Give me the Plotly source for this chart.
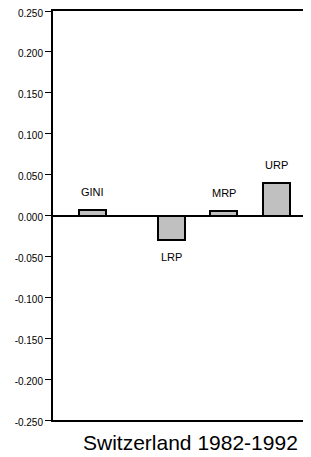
import plotly.graph_objects as go

categories = ["GINI", "LRP", "MRP", "URP"]
x_positions = [0, 1.5, 2.5, 3.5]
values = [0.007, -0.030, 0.005, 0.040]
tick_vals = [0.25, 0.2, 0.15, 0.1, 0.05, 0.0, -0.05, -0.1, -0.15, -0.2, -0.25]
tick_labels = ["0.250", "0.200", "0.150", "0.100", "0.050", "0.000",
               "-0.050", "-0.100", "-0.150", "-0.200", "-0.250"]
title_text = "Switzerland 1982-1992"

FONT = "Liberation Sans, Arial, sans-serif"

# The page body has an 8px default margin, so the figure is sized to fit.
W, H = 303, 449
ML, MR, MT, MB = 45, 0, 3, 37

fig = go.Figure()
fig.add_trace(go.Bar(
    x=x_positions, y=values, width=0.52,
    marker=dict(color="#c0c0c0", line=dict(color="black", width=2)),
    hoverinfo="skip", showlegend=False,
))

annotations = []
for xp, v, c in zip(x_positions, values, categories):
    annotations.append(dict(
        x=xp, y=v, xref="x", yref="y", text=c, showarrow=False,
        yanchor="bottom" if v >= 0 else "top",
        yshift=10 if v >= 0 else -9,
        font=dict(family=FONT, size=11, color="black"),
    ))
annotations.append(dict(
    xref="paper", yref="paper", x=(182 - ML) / (W - ML - MR), y=0,
    yanchor="top", yshift=-9, text=title_text, showarrow=False,
    font=dict(family=FONT, size=21, color="black"),
))

fig.update_layout(
    width=W, height=H,
    margin=dict(l=ML, r=MR, t=MT, b=MB, pad=0),
    paper_bgcolor="white", plot_bgcolor="white",
    annotations=annotations,
    bargap=0,
    xaxis=dict(range=[-0.752, 4.16], showticklabels=False, ticks="",
               showgrid=False, zeroline=False, showline=True,
               linecolor="black", linewidth=2, mirror=True),
    yaxis=dict(range=[-0.25, 0.25], tickvals=tick_vals, ticktext=tick_labels,
               ticks="outside", ticklen=6, tickwidth=1, tickcolor="black",
               ticklabeloverflow="allow", ticklabelshift=2,
               showgrid=False, zeroline=True, zerolinecolor="black",
               zerolinewidth=1.5, showline=True, linecolor="black",
               linewidth=2, mirror=False, automargin=False,
               tickfont=dict(family=FONT, size=10, color="black")),
)

fig.write_html("out.html")
